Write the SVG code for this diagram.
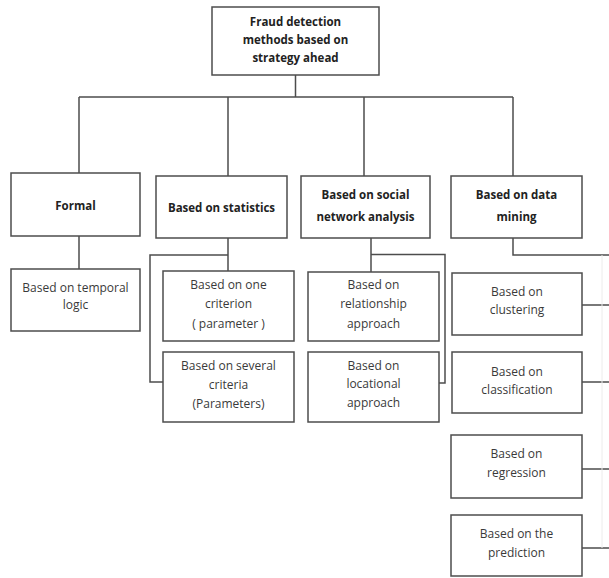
<svg xmlns="http://www.w3.org/2000/svg" width="609" height="578" viewBox="0 0 609 578">
<style>
.box{fill:#fff;stroke:#4d4d4d;stroke-width:1.5}
.ln{fill:none;stroke:#4d4d4d;stroke-width:1.5}
.faint{fill:none;stroke:#ececec;stroke-width:1}
text{font-family:"Open Sans","Liberation Sans",sans-serif;text-anchor:middle;fill:#3a3a3a;font-size:12px}
.b{font-weight:bold;fill:#222;font-size:11.5px}
</style>
<rect width="609" height="578" fill="#fff"/>
<g id="connectors">
<path class="ln" d="M295.5 75V97M79 97H513M79 97V173M228 97V176M364 97V176M513 97V176"/>
<path class="ln" d="M79 236V269"/>
<path class="ln" d="M228 238V271M228 255H150V382H163"/>
<path class="ln" d="M371 238V272M371 254.5H445V383H439"/>
<path class="ln" d="M513 238V255H609"/>
<path class="ln" d="M582 305H609M582 382H609M582 469H609M582 548H609"/>
<path class="faint" d="M602 255V548"/>
</g>
<g id="root"><rect class="box" x="212" y="7" width="167" height="68"/>
<text class="b" x="295.5" y="26">Fraud detection</text>
<text class="b" x="295.5" y="44">methods based on</text>
<text class="b" x="295.5" y="62">strategy ahead</text></g>
<g id="formal"><rect class="box" x="11" y="173" width="129" height="63"/>
<text class="b" x="75.5" y="210">Formal</text></g>
<g id="statistics"><rect class="box" x="156" y="176" width="131" height="62"/>
<text class="b" x="221.5" y="212">Based on statistics</text></g>
<g id="social"><rect class="box" x="301" y="176" width="129" height="62"/>
<text class="b" x="365.5" y="199">Based on social</text>
<text class="b" x="365.5" y="221">network analysis</text></g>
<g id="datamining"><rect class="box" x="451" y="176" width="131" height="62"/>
<text class="b" x="516.5" y="199">Based on data</text>
<text class="b" x="516.5" y="221">mining</text></g>
<g id="temporal"><rect class="box" x="11" y="269" width="129" height="62"/>
<text x="75.5" y="292">Based on temporal</text>
<text x="75.5" y="309">logic</text></g>
<g id="onecriterion"><rect class="box" x="163" y="271" width="131" height="70"/>
<text x="228.5" y="289">Based on one</text>
<text x="228.5" y="308">criterion</text>
<text x="228.5" y="328">( parameter )</text></g>
<g id="severalcriteria"><rect class="box" x="163" y="352" width="131" height="70"/>
<text x="228.5" y="370">Based on several</text>
<text x="228.5" y="389">criteria</text>
<text x="228.5" y="408">(Parameters)</text></g>
<g id="relationship"><rect class="box" x="308" y="272" width="131" height="69"/>
<text x="373.5" y="289">Based on</text>
<text x="373.5" y="308">relationship</text>
<text x="373.5" y="328">approach</text></g>
<g id="locational"><rect class="box" x="308" y="352" width="131" height="70"/>
<text x="373.5" y="370">Based on</text>
<text x="373.5" y="388">locational</text>
<text x="373.5" y="407">approach</text></g>
<g id="clustering"><rect class="box" x="452" y="273" width="130" height="62"/>
<text x="517" y="296">Based on</text>
<text x="517" y="314">clustering</text></g>
<g id="classification"><rect class="box" x="452" y="352" width="130" height="61"/>
<text x="517" y="376">Based on</text>
<text x="517" y="394">classification</text></g>
<g id="regression"><rect class="box" x="451" y="435" width="131" height="63"/>
<text x="516.5" y="458">Based on</text>
<text x="516.5" y="477">regression</text></g>
<g id="prediction"><rect class="box" x="451" y="515" width="131" height="61"/>
<text x="516.5" y="538">Based on the</text>
<text x="516.5" y="557">prediction</text></g>
</svg>
